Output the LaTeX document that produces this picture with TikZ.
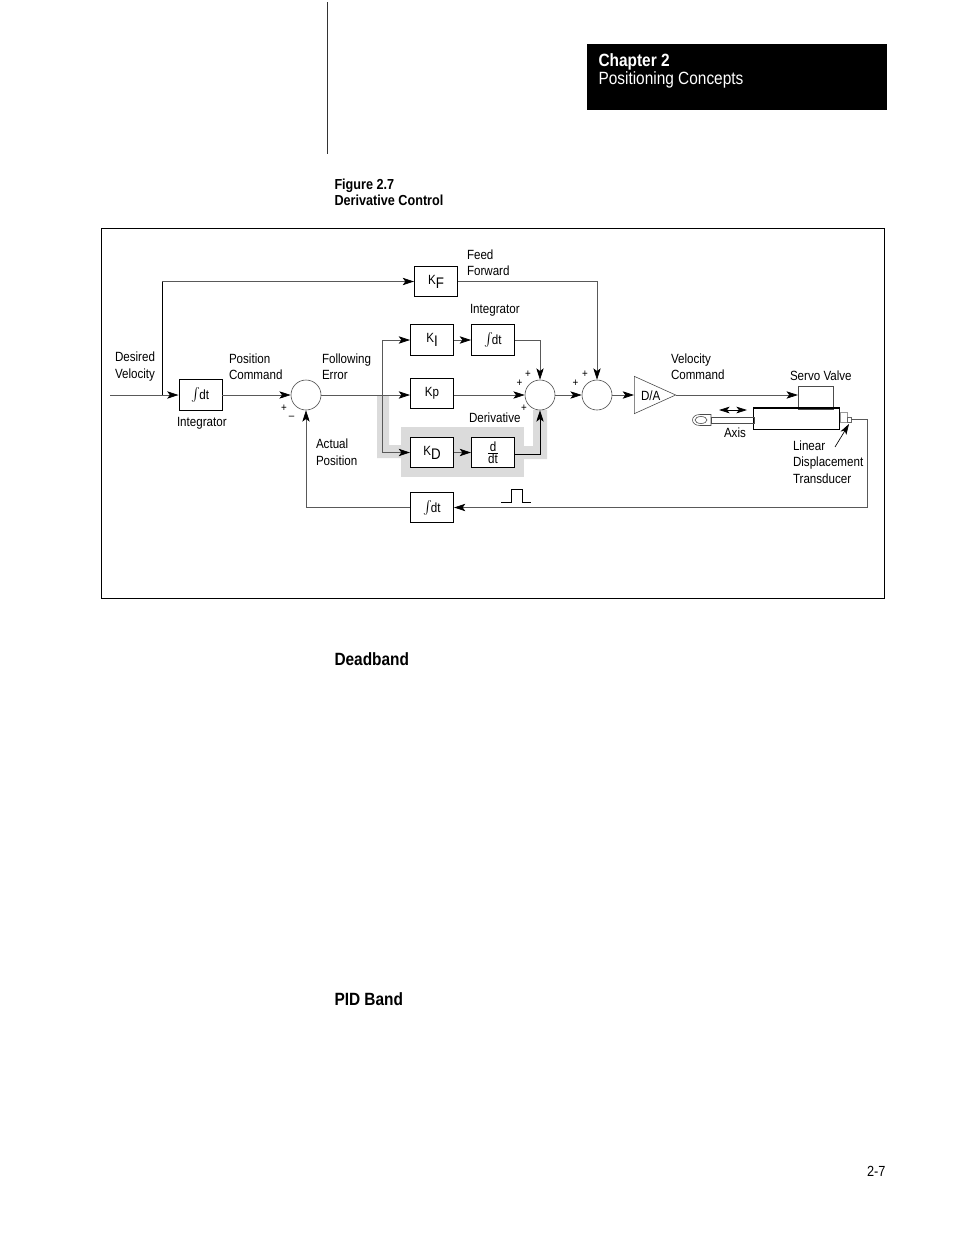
\documentclass[tikz,border=0pt]{standalone}
\usepackage{fontspec}
\setmainfont[FakeStretch=0.87]{Liberation Sans}
\usetikzlibrary{arrows.meta,shapes.geometric}
\newcommand{\intdt}{{\fontsize{14}{14}\selectfont$\int$}\kern-1pt dt}
\tikzset{every picture/.style={line width=0.75pt}}
\tikzset{
	blockbox/.style={draw=black,fill=white,line width=0.7pt,minimum width=32.25pt,minimum height=23pt,inner sep=0pt,font=\fontsize{10}{12}\selectfont},
	sumcircle/.style={draw=black!70,fill=white,circle,line width=0.45pt,minimum size=22.5pt,inner sep=0pt},
	flowline/.style={draw=black!65,line width=0.55pt},
	flowarrow/.style={flowline,-{Stealth[black,length=8.5pt,width=5.5pt,inset=2pt]}},
	lbl/.style={anchor=west,inner sep=0pt,align=left,font=\fontsize{10}{12.4}\selectfont},
	signlbl/.style={inner sep=0pt,font=\fontsize{8.5}{10}\selectfont},
	headlbl/.style={anchor=west,inner sep=0pt,align=left,font=\fontsize{13.3}{13.5}\selectfont\bfseries}
}
\begin{document}
\begin{tikzpicture}[x=0.75pt,y=0.75pt,yscale=-1,xscale=1]
	\useasboundingbox (0,0) rectangle (954,1235);

	%Page furniture
	\draw [line width=0.75pt,black!80] (327.5,2) -- (327.5,154);
	\fill [black] (587,44) rectangle (887,110);
	\draw [line width=0.6pt] (101,228.5) rectangle (884.5,598.5);

	%Highlight of derivative path
	\fill [black!14] (401,427) rectangle (524,477);
	\fill [black!14] (377,395) -- (389,395) -- (389,445) -- (401,445) -- (401,458) -- (377,458) -- cycle;
	\fill [black!14] (524,446) -- (533,446) -- (533,410) -- (547,410) -- (547,459) -- (524,459) -- cycle;

	%Blocks
	\node [blockbox] (integ) at (200.5,395) {\intdt};
	\node [sumcircle] (sumerr) at (306,395) {};
	\node [blockbox] (kf) at (436,281.5) {K\raisebox{-3pt}{\fontsize{11.5}{12}\selectfont F}};
	\node [blockbox] (ki) at (432,340) {K\raisebox{-3pt}{\fontsize{11.5}{12}\selectfont I}};
	\node [blockbox] (intki) at (493,340) {\intdt};
	\node [blockbox] (kp) at (432,393.5) {Kp};
	\node [blockbox] (kd) at (432,452.5) {K\raisebox{-3pt}{\fontsize{11.5}{12}\selectfont D}};
	\node [blockbox] (ddt) at (493,452.5) {$\frac{\hbox{d}}{\hbox{dt}}$};
	\node [blockbox] (intfb) at (432,507.5) {\intdt};
	\node [sumcircle] (sumpid) at (540,395) {};
	\node [sumcircle] (sumout) at (597,395) {};
	\node [draw=black!70,line width=0.45pt,isosceles triangle,isosceles triangle apex angle=48,isosceles triangle stretches,minimum width=28pt,minimum height=31pt,inner sep=0pt,anchor=lower side] (da) at (634,395) {};
	\node [lbl] (dalbl) at (640.5,395.5) {D/A};
	\node [draw=black!70,line width=0.45pt,minimum width=26pt,minimum height=17pt,inner sep=0pt] (valve) at (815.5,397.5) {};
	\node [draw=black,line width=0.7pt,minimum width=64pt,minimum height=15.5pt,inner sep=0pt] (cyl) at (796.5,419) {};

	%Cylinder details
	\draw [line width=1.4pt] (cyl.north west) -- (cyl.north east);
	\draw [black!70,line width=0.45pt] (711,417) rectangle (754,423);
	\draw [black!70,line width=0.45pt] (711,414.5) -- (700,414.5) .. controls (690,414.5) and (690,425.5) .. (700,425.5) -- (711,425.5) -- cycle;
	\draw [black!70,line width=0.45pt] (701,420) ellipse (6 and 3.5);
	\draw [black!40,line width=0.45pt] (840,412) rectangle (847,422);
	\draw [black!60,line width=0.45pt] (847,417) rectangle (851,422);

	\coordinate (inlet) at (110,395);
	\coordinate (ffjoin) at (162,395);
	\coordinate (pidjoin) at (382,395);
	\coordinate (ldtout) at (851,419);
	\coordinate (ldtcorner) at (867.5,419);
	\coordinate (ldtfoot) at (867.5,507.5);
	\coordinate (axisl) at (719,410);
	\coordinate (axisr) at (747,410);
	\coordinate (ldtarrow) at (835,447);
	\coordinate (ldttip) at (849,424);
	\coordinate (pulsea) at (501,502);

	%Connectors
	\draw [flowarrow] (inlet) -- (integ.west);
	\draw [line width=0.6pt,black] (ffjoin) -- (162,281.5);
	\draw [flowarrow] (162,281.5) -- (kf.west);
	\draw [flowarrow] (integ.east) -- (sumerr.west);
	\draw [flowline] (sumerr.east) -- (pidjoin);
	\draw [flowarrow] (pidjoin) -- (kp.west |- pidjoin);
	\draw [flowarrow] (pidjoin) |- (ki.west);
	\draw [flowarrow] (pidjoin) |- (kd.west);
	\draw [flowarrow] (ki.east) -- (intki.west);
	\draw [flowarrow] (kd.east) -- (ddt.west);
	\draw [flowarrow] (intki.east) -| (sumpid.north);
	\draw [flowarrow] (kp.east |- sumpid.west) -- (sumpid.west);
	\draw [line width=0.7pt,-{Stealth[length=8.5pt,width=5.5pt,inset=2pt]}] (ddt.east) ++(0,1.5) -| (sumpid.south);
	\draw [flowarrow] (kf.east) -| (sumout.north);
	\draw [flowarrow] (sumpid.east) -- (sumout.west);
	\draw [flowarrow] (sumout.east) -- (da.lower side);
	\draw [flowarrow] (da.apex) -- (valve.west |- da.apex);
	\draw [flowline] (ldtout) -- (ldtcorner) -- (ldtfoot);
	\draw [flowarrow] (ldtfoot) -- (intfb.east);
	\draw [flowarrow] (intfb.west) -| (sumerr.south);
	\draw [line width=0.6pt,{Stealth[length=8pt,width=5pt,inset=2pt]}-{Stealth[length=8pt,width=5pt,inset=2pt]}] (axisl) -- (axisr);
	\draw [line width=0.5pt,-{Stealth[length=8pt,width=5pt,inset=2pt]}] (ldtarrow) -- (ldttip);
	\draw [line width=0.6pt] (pulsea) -- (511,502) -- (511,489) -- (522,489) -- (522,502) -- (531,502);

	% Text Node
	\node [lbl,white,font=\fontsize{13.3}{13.5}\selectfont\bfseries] (chapno) at (598,61.5) {Chapter 2};
	% Text Node
	\node [lbl,white,font=\fontsize{13.3}{13.5}\selectfont] (chapname) at (598,80) {Positioning Concepts};
	% Text Node
	\node [lbl,font=\fontsize{10.9}{12}\selectfont\bfseries] (figno) at (334,185.5) {Figure 2.7};
	% Text Node
	\node [lbl,font=\fontsize{10.9}{12}\selectfont\bfseries] (figname) at (334,200.5) {Derivative Control};
	% Text Node
	\node [headlbl] (deadband) at (334,659.5) {Deadband};
	% Text Node
	\node [headlbl] (pidband) at (334,999.5) {PID Band};
	% Text Node
	\node [inner sep=0pt,anchor=east,font=\fontsize{11}{12}\selectfont] (pageno) at (886,1171) {2-7};
	% Text Node
	\node [lbl] (desvel) at (114.5,366.5) {Desired\\Velocity};
	% Text Node
	\node [lbl] (poscmd) at (228.5,366.5) {Position\\Command};
	% Text Node
	\node [lbl] (follerr) at (321.5,366.5) {Following\\Error};
	% Text Node
	\node [lbl] (integlbl) at (176.5,423.5) {Integrator};
	% Text Node
	\node [lbl] (actpos) at (315.5,452) {Actual\\Position};
	% Text Node
	\node [lbl] (feedfwd) at (466.5,262.5) {Feed\\Forward};
	% Text Node
	\node [lbl] (kilbl) at (469.5,310) {Integrator};
	% Text Node
	\node [lbl] (kdlbl) at (468.5,417.5) {Derivative};
	% Text Node
	\node [lbl] (velcmd) at (670.5,366.5) {Velocity\\Command};
	% Text Node
	\node [lbl] (servo) at (789.5,375.5) {Servo Valve};
	% Text Node
	\node [lbl] (axislbl) at (723.5,432.5) {Axis};
	% Text Node
	\node [lbl] (ldtlbl) at (792.5,462) {Linear\\Displacement\\Transducer};
	% Text Node
	\node [signlbl] (plusa) at (284,408) {+};
	% Text Node
	\node [signlbl] (minusa) at (291.5,417.5) {--};
	% Text Node
	\node [signlbl] (plusb) at (528,374) {+};
	% Text Node
	\node [signlbl] (plusc) at (519.5,383.5) {+};
	% Text Node
	\node [signlbl] (plusd) at (524,408.5) {+};
	% Text Node
	\node [signlbl] (pluse) at (585,374) {+};
	% Text Node
	\node [signlbl] (plusf) at (575.5,383.5) {+};
\end{tikzpicture}
\end{document}
